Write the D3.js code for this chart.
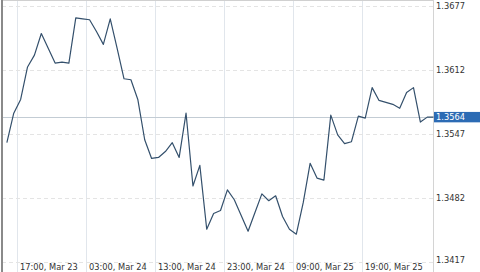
<!DOCTYPE html>
<html>
<head>
<meta charset="utf-8">
<script src="https://cdn.jsdelivr.net/npm/d3@7"></script>
<style>
  html, body { margin: 0; padding: 0; background: #fff; }
  svg { display: block; }
  text { font-family: "DejaVu Sans Condensed", "DejaVu Sans", sans-serif; font-stretch: condensed; }
</style>
</head>
<body>
<svg id="chart" width="480" height="272"></svg>
<script>
// ---- data ----
const startTime = "2014-03-23T15:30:00Z"; // first hourly sample
const prices = [
  1.3538, 1.3568, 1.3582, 1.3615, 1.3627, 1.3649, 1.3634, 1.3619, 1.3620, 1.3619,
  1.3665, 1.3664, 1.3663, 1.3651, 1.3638, 1.3664, 1.3634, 1.3603, 1.3602, 1.3582,
  1.3541, 1.3522, 1.3523, 1.3529, 1.3538, 1.3523, 1.3568, 1.3494, 1.3515, 1.3450,
  1.3466, 1.3469, 1.3490, 1.3480, 1.3464, 1.3448, 1.3467, 1.3486, 1.3479, 1.3484,
  1.3463, 1.3450, 1.3445, 1.3477, 1.3517, 1.3502, 1.3500, 1.3566, 1.3546, 1.3537,
  1.3539, 1.3565, 1.3563, 1.3594, 1.3581, 1.3579, 1.3577, 1.3573, 1.3589, 1.3594,
  1.3559, 1.3564, 1.3564
];
const currentPrice = 1.3564;
const yTicks = [1.3417, 1.3482, 1.3547, 1.3612, 1.3677];
const xTickTimes = ["2014-03-23T17:00:00Z", "2014-03-24T03:00:00Z", "2014-03-24T13:00:00Z",
                    "2014-03-24T23:00:00Z", "2014-03-25T09:00:00Z", "2014-03-25T19:00:00Z"];
const xTickLabels = ["17:00, Mar 23", "03:00, Mar 24", "13:00, Mar 24",
                     "23:00, Mar 24", "09:00, Mar 25", "19:00, Mar 25"];

// ---- layout ----
const W = 480, H = 272;
const plotL = 2, plotR = 433.5, plotT = 1, plotB = 272;

const t0 = new Date(startTime);
const series = prices.map((v, i) => ({ t: d3.utcHour.offset(t0, i), v }));

const x = d3.scaleUtc()
  .domain([new Date(xTickTimes[0]), new Date(xTickTimes[5])])
  .range([17.2, 361.8]);
const y = d3.scaleLinear().domain([1.3417, 1.3677]).range([261.7, 6]);

const svg = d3.select("#chart");

svg.append("defs").append("clipPath").attr("id", "clip")
  .append("rect").attr("x", plotL).attr("y", plotT).attr("width", plotR - plotL).attr("height", plotB - plotT);

// vertical gridlines
svg.append("g").selectAll("line").data(xTickTimes).join("line")
  .attr("x1", d => Math.round(x(new Date(d))) + 0.5)
  .attr("x2", d => Math.round(x(new Date(d))) + 0.5)
  .attr("y1", plotT).attr("y2", H)
  .attr("stroke", "#e1e6ec").attr("stroke-width", 1);

// horizontal dashed gridlines
svg.append("g").selectAll("line").data(yTicks).join("line")
  .attr("x1", plotL).attr("x2", plotR)
  .attr("y1", d => Math.round(y(d)) + 0.5)
  .attr("y2", d => Math.round(y(d)) + 0.5)
  .attr("stroke", "#e4e4e4").attr("stroke-width", 1)
  .attr("stroke-dasharray", "4,3");

// current price line
svg.append("line")
  .attr("x1", plotL).attr("x2", plotR)
  .attr("y1", Math.round(y(currentPrice)) + 0.5)
  .attr("y2", Math.round(y(currentPrice)) + 0.5)
  .attr("stroke", "#c3ccd4").attr("stroke-width", 1);

// borders
svg.append("line").attr("x1", plotL).attr("x2", plotR).attr("y1", 0.5).attr("y2", 0.5)
  .attr("stroke", "#d0d0d0");
svg.append("line").attr("x1", 2).attr("x2", 2).attr("y1", 0).attr("y2", H)
  .attr("stroke", "#8a8a8a").attr("stroke-width", 2);
svg.append("line").attr("x1", plotR).attr("x2", plotR).attr("y1", 0).attr("y2", H)
  .attr("stroke", "#d4d4d4").attr("stroke-width", 1);

// price line
svg.append("path")
  .datum(series)
  .attr("clip-path", "url(#clip)")
  .attr("fill", "none")
  .attr("stroke", "#34506c")
  .attr("stroke-width", 1.2)
  .attr("stroke-linejoin", "round")
  .attr("d", d3.line().x(d => x(d.t)).y(d => y(d.v)));

// x labels
svg.append("g").selectAll("text").data(xTickTimes).join("text")
  .attr("x", d => Math.round(x(new Date(d))) + 3)
  .attr("y", 270)
  .attr("font-size", 9.2)
  .attr("fill", "#333")
  .text((d, i) => xTickLabels[i]);

// y labels
svg.append("g").selectAll("text").data(yTicks).join("text")
  .attr("x", 436)
  .attr("y", d => Math.min(y(d), 260))
  .attr("dy", "0.36em")
  .attr("font-size", 9.2)
  .attr("fill", "#333")
  .text(d => d.toFixed(4));

// current price box
const cy = y(currentPrice);
svg.append("rect")
  .attr("x", plotR + 0.5).attr("y", cy - 5.2)
  .attr("width", W - plotR).attr("height", 10.4)
  .attr("fill", "#2c6bb4");
svg.append("text")
  .attr("x", 436).attr("y", cy).attr("dy", "0.36em")
  .attr("font-size", 9.2).attr("fill", "#fff")
  .text(currentPrice.toFixed(4));
</script>
</body>
</html>
